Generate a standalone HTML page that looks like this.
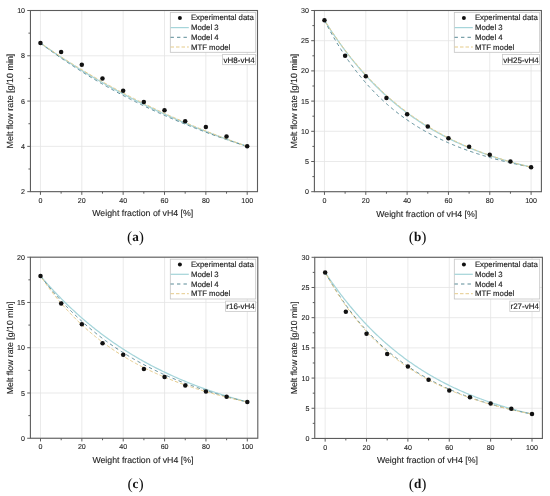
<!DOCTYPE html>
<html><head><meta charset="utf-8"><style>
html,body{margin:0;padding:0;background:#fff;}
svg{display:block;filter:blur(0.45px);text-rendering:geometricPrecision;}
.tl{font-family:"Liberation Sans",Arial,sans-serif;font-size:7.1px;fill:#222;stroke:#222;stroke-width:0.1px;}
.at{font-family:"Liberation Sans",Arial,sans-serif;font-size:8.75px;fill:#222;stroke:#222;stroke-width:0.1px;}
.lg{font-family:"Liberation Sans",Arial,sans-serif;font-size:7.8px;fill:#1a1a1a;stroke:#1a1a1a;stroke-width:0.14px;}
.lb{font-family:"Liberation Sans",Arial,sans-serif;font-size:8px;fill:#1a1a1a;stroke:#1a1a1a;stroke-width:0.14px;}
.sc{font-family:"Liberation Serif","Times New Roman",serif;font-size:13.2px;fill:#111;}
.pa{font-size:15.6px;}
</style></head><body>
<svg width="550" height="496" viewBox="0 0 550 496">
<rect width="550" height="496" fill="#fff"/>
<line x1="40.45" y1="10.50" x2="40.45" y2="191.65" stroke="#e4e4e4" stroke-width="0.8"/>
<line x1="81.80" y1="10.50" x2="81.80" y2="191.65" stroke="#e4e4e4" stroke-width="0.8"/>
<line x1="123.15" y1="10.50" x2="123.15" y2="191.65" stroke="#e4e4e4" stroke-width="0.8"/>
<line x1="164.50" y1="10.50" x2="164.50" y2="191.65" stroke="#e4e4e4" stroke-width="0.8"/>
<line x1="205.85" y1="10.50" x2="205.85" y2="191.65" stroke="#e4e4e4" stroke-width="0.8"/>
<line x1="247.20" y1="10.50" x2="247.20" y2="191.65" stroke="#e4e4e4" stroke-width="0.8"/>
<line x1="30.45" y1="191.65" x2="257.50" y2="191.65" stroke="#e4e4e4" stroke-width="0.8"/>
<line x1="30.45" y1="146.36" x2="257.50" y2="146.36" stroke="#e4e4e4" stroke-width="0.8"/>
<line x1="30.45" y1="101.08" x2="257.50" y2="101.08" stroke="#e4e4e4" stroke-width="0.8"/>
<line x1="30.45" y1="55.79" x2="257.50" y2="55.79" stroke="#e4e4e4" stroke-width="0.8"/>
<line x1="30.45" y1="10.50" x2="257.50" y2="10.50" stroke="#e4e4e4" stroke-width="0.8"/>
<path d="M40.45,43.11 L41.48,43.84 L42.52,44.58 L43.55,45.31 L44.59,46.03 L45.62,46.76 L46.65,47.48 L47.69,48.20 L48.72,48.92 L49.75,49.63 L50.79,50.34 L51.82,51.05 L52.86,51.76 L53.89,52.46 L54.92,53.16 L55.96,53.86 L56.99,54.55 L58.02,55.25 L59.06,55.93 L60.09,56.62 L61.12,57.31 L62.16,57.99 L63.19,58.67 L64.23,59.35 L65.26,60.02 L66.29,60.69 L67.33,61.36 L68.36,62.03 L69.40,62.69 L70.43,63.35 L71.46,64.01 L72.50,64.67 L73.53,65.32 L74.56,65.97 L75.60,66.62 L76.63,67.27 L77.67,67.91 L78.70,68.56 L79.73,69.19 L80.77,69.83 L81.80,70.47 L82.83,71.10 L83.87,71.73 L84.90,72.36 L85.94,72.98 L86.97,73.60 L88.00,74.22 L89.04,74.84 L90.07,75.46 L91.10,76.07 L92.14,76.68 L93.17,77.29 L94.21,77.89 L95.24,78.50 L96.27,79.10 L97.31,79.70 L98.34,80.30 L99.37,80.89 L100.41,81.48 L101.44,82.07 L102.47,82.66 L103.51,83.25 L104.54,83.83 L105.58,84.41 L106.61,84.99 L107.64,85.57 L108.68,86.14 L109.71,86.72 L110.75,87.29 L111.78,87.85 L112.81,88.42 L113.85,88.98 L114.88,89.55 L115.91,90.11 L116.95,90.66 L117.98,91.22 L119.02,91.77 L120.05,92.32 L121.08,92.87 L122.12,93.42 L123.15,93.96 L124.18,94.51 L125.22,95.05 L126.25,95.59 L127.28,96.12 L128.32,96.66 L129.35,97.19 L130.39,97.72 L131.42,98.25 L132.45,98.78 L133.49,99.30 L134.52,99.82 L135.56,100.34 L136.59,100.86 L137.62,101.38 L138.66,101.89 L139.69,102.41 L140.72,102.92 L141.76,103.43 L142.79,103.93 L143.82,104.44 L144.86,104.94 L145.89,105.44 L146.93,105.94 L147.96,106.44 L148.99,106.93 L150.03,107.43 L151.06,107.92 L152.09,108.41 L153.13,108.90 L154.16,109.38 L155.20,109.87 L156.23,110.35 L157.26,110.83 L158.30,111.31 L159.33,111.79 L160.36,112.26 L161.40,112.74 L162.43,113.21 L163.47,113.68 L164.50,114.14 L165.53,114.61 L166.57,115.08 L167.60,115.54 L168.63,116.00 L169.67,116.46 L170.70,116.92 L171.74,117.37 L172.77,117.83 L173.80,118.28 L174.84,118.73 L175.87,119.18 L176.91,119.62 L177.94,120.07 L178.97,120.51 L180.01,120.95 L181.04,121.40 L182.07,121.83 L183.11,122.27 L184.14,122.71 L185.18,123.14 L186.21,123.57 L187.24,124.00 L188.28,124.43 L189.31,124.86 L190.34,125.28 L191.38,125.71 L192.41,126.13 L193.44,126.55 L194.48,126.97 L195.51,127.39 L196.55,127.80 L197.58,128.22 L198.61,128.63 L199.65,129.04 L200.68,129.45 L201.71,129.86 L202.75,130.27 L203.78,130.67 L204.82,131.07 L205.85,131.48 L206.88,131.88 L207.92,132.28 L208.95,132.67 L209.99,133.07 L211.02,133.46 L212.05,133.86 L213.09,134.25 L214.12,134.64 L215.15,135.03 L216.19,135.41 L217.22,135.80 L218.25,136.18 L219.29,136.57 L220.32,136.95 L221.36,137.33 L222.39,137.70 L223.42,138.08 L224.46,138.46 L225.49,138.83 L226.52,139.20 L227.56,139.57 L228.59,139.94 L229.63,140.31 L230.66,140.68 L231.69,141.04 L232.73,141.41 L233.76,141.77 L234.80,142.13 L235.83,142.49 L236.86,142.85 L237.90,143.21 L238.93,143.56 L239.96,143.92 L241.00,144.27 L242.03,144.62 L243.06,144.97 L244.10,145.32 L245.13,145.67 L246.17,146.02 L247.20,146.36" fill="none" stroke="#a6d5da" stroke-width="1.25"/>
<path d="M40.45,43.11 L41.48,43.89 L42.52,44.66 L43.55,45.43 L44.59,46.20 L45.62,46.97 L46.65,47.73 L47.69,48.49 L48.72,49.24 L49.75,49.99 L50.79,50.74 L51.82,51.48 L52.86,52.22 L53.89,52.96 L54.92,53.70 L55.96,54.43 L56.99,55.15 L58.02,55.88 L59.06,56.60 L60.09,57.31 L61.12,58.03 L62.16,58.74 L63.19,59.45 L64.23,60.15 L65.26,60.85 L66.29,61.55 L67.33,62.24 L68.36,62.94 L69.40,63.62 L70.43,64.31 L71.46,64.99 L72.50,65.67 L73.53,66.35 L74.56,67.02 L75.60,67.69 L76.63,68.36 L77.67,69.02 L78.70,69.68 L79.73,70.34 L80.77,70.99 L81.80,71.64 L82.83,72.29 L83.87,72.94 L84.90,73.58 L85.94,74.22 L86.97,74.86 L88.00,75.49 L89.04,76.13 L90.07,76.75 L91.10,77.38 L92.14,78.00 L93.17,78.62 L94.21,79.24 L95.24,79.86 L96.27,80.47 L97.31,81.08 L98.34,81.68 L99.37,82.29 L100.41,82.89 L101.44,83.49 L102.47,84.08 L103.51,84.68 L104.54,85.27 L105.58,85.85 L106.61,86.44 L107.64,87.02 L108.68,87.60 L109.71,88.18 L110.75,88.75 L111.78,89.33 L112.81,89.90 L113.85,90.46 L114.88,91.03 L115.91,91.59 L116.95,92.15 L117.98,92.71 L119.02,93.26 L120.05,93.81 L121.08,94.36 L122.12,94.91 L123.15,95.46 L124.18,96.00 L125.22,96.54 L126.25,97.08 L127.28,97.61 L128.32,98.15 L129.35,98.68 L130.39,99.20 L131.42,99.73 L132.45,100.25 L133.49,100.78 L134.52,101.30 L135.56,101.81 L136.59,102.33 L137.62,102.84 L138.66,103.35 L139.69,103.86 L140.72,104.36 L141.76,104.87 L142.79,105.37 L143.82,105.87 L144.86,106.36 L145.89,106.86 L146.93,107.35 L147.96,107.84 L148.99,108.33 L150.03,108.82 L151.06,109.30 L152.09,109.78 L153.13,110.26 L154.16,110.74 L155.20,111.22 L156.23,111.69 L157.26,112.16 L158.30,112.63 L159.33,113.10 L160.36,113.56 L161.40,114.03 L162.43,114.49 L163.47,114.95 L164.50,115.41 L165.53,115.86 L166.57,116.32 L167.60,116.77 L168.63,117.22 L169.67,117.67 L170.70,118.11 L171.74,118.56 L172.77,119.00 L173.80,119.44 L174.84,119.88 L175.87,120.31 L176.91,120.75 L177.94,121.18 L178.97,121.61 L180.01,122.04 L181.04,122.47 L182.07,122.89 L183.11,123.32 L184.14,123.74 L185.18,124.16 L186.21,124.57 L187.24,124.99 L188.28,125.41 L189.31,125.82 L190.34,126.23 L191.38,126.64 L192.41,127.05 L193.44,127.45 L194.48,127.86 L195.51,128.26 L196.55,128.66 L197.58,129.06 L198.61,129.46 L199.65,129.85 L200.68,130.25 L201.71,130.64 L202.75,131.03 L203.78,131.42 L204.82,131.80 L205.85,132.19 L206.88,132.57 L207.92,132.96 L208.95,133.34 L209.99,133.72 L211.02,134.09 L212.05,134.47 L213.09,134.84 L214.12,135.22 L215.15,135.59 L216.19,135.96 L217.22,136.33 L218.25,136.69 L219.29,137.06 L220.32,137.42 L221.36,137.78 L222.39,138.15 L223.42,138.50 L224.46,138.86 L225.49,139.22 L226.52,139.57 L227.56,139.93 L228.59,140.28 L229.63,140.63 L230.66,140.98 L231.69,141.32 L232.73,141.67 L233.76,142.01 L234.80,142.36 L235.83,142.70 L236.86,143.04 L237.90,143.38 L238.93,143.71 L239.96,144.05 L241.00,144.38 L242.03,144.72 L243.06,145.05 L244.10,145.38 L245.13,145.71 L246.17,146.04 L247.20,146.36" fill="none" stroke="#5b8b97" stroke-width="1" stroke-dasharray="3.4 3.1"/>
<path d="M40.45,43.11 L41.48,43.82 L42.52,44.52 L43.55,45.23 L44.59,45.93 L45.62,46.63 L46.65,47.33 L47.69,48.02 L48.72,48.71 L49.75,49.40 L50.79,50.09 L51.82,50.78 L52.86,51.46 L53.89,52.14 L54.92,52.82 L55.96,53.50 L56.99,54.17 L58.02,54.84 L59.06,55.51 L60.09,56.18 L61.12,56.85 L62.16,57.51 L63.19,58.17 L64.23,58.83 L65.26,59.49 L66.29,60.14 L67.33,60.80 L68.36,61.45 L69.40,62.09 L70.43,62.74 L71.46,63.38 L72.50,64.03 L73.53,64.66 L74.56,65.30 L75.60,65.94 L76.63,66.57 L77.67,67.20 L78.70,67.83 L79.73,68.46 L80.77,69.08 L81.80,69.71 L82.83,70.33 L83.87,70.94 L84.90,71.56 L85.94,72.18 L86.97,72.79 L88.00,73.40 L89.04,74.01 L90.07,74.61 L91.10,75.22 L92.14,75.82 L93.17,76.42 L94.21,77.02 L95.24,77.61 L96.27,78.21 L97.31,78.80 L98.34,79.39 L99.37,79.98 L100.41,80.56 L101.44,81.15 L102.47,81.73 L103.51,82.31 L104.54,82.89 L105.58,83.47 L106.61,84.04 L107.64,84.61 L108.68,85.18 L109.71,85.75 L110.75,86.32 L111.78,86.88 L112.81,87.45 L113.85,88.01 L114.88,88.57 L115.91,89.12 L116.95,89.68 L117.98,90.23 L119.02,90.78 L120.05,91.33 L121.08,91.88 L122.12,92.43 L123.15,92.97 L124.18,93.51 L125.22,94.06 L126.25,94.59 L127.28,95.13 L128.32,95.67 L129.35,96.20 L130.39,96.73 L131.42,97.26 L132.45,97.79 L133.49,98.31 L134.52,98.84 L135.56,99.36 L136.59,99.88 L137.62,100.40 L138.66,100.92 L139.69,101.43 L140.72,101.95 L141.76,102.46 L142.79,102.97 L143.82,103.48 L144.86,103.98 L145.89,104.49 L146.93,104.99 L147.96,105.49 L148.99,105.99 L150.03,106.49 L151.06,106.99 L152.09,107.48 L153.13,107.97 L154.16,108.46 L155.20,108.95 L156.23,109.44 L157.26,109.93 L158.30,110.41 L159.33,110.90 L160.36,111.38 L161.40,111.86 L162.43,112.33 L163.47,112.81 L164.50,113.28 L165.53,113.76 L166.57,114.23 L167.60,114.70 L168.63,115.17 L169.67,115.63 L170.70,116.10 L171.74,116.56 L172.77,117.02 L173.80,117.48 L174.84,117.94 L175.87,118.40 L176.91,118.85 L177.94,119.31 L178.97,119.76 L180.01,120.21 L181.04,120.66 L182.07,121.11 L183.11,121.55 L184.14,122.00 L185.18,122.44 L186.21,122.88 L187.24,123.32 L188.28,123.76 L189.31,124.20 L190.34,124.63 L191.38,125.06 L192.41,125.50 L193.44,125.93 L194.48,126.36 L195.51,126.78 L196.55,127.21 L197.58,127.63 L198.61,128.06 L199.65,128.48 L200.68,128.90 L201.71,129.32 L202.75,129.74 L203.78,130.15 L204.82,130.57 L205.85,130.98 L206.88,131.39 L207.92,131.80 L208.95,132.21 L209.99,132.62 L211.02,133.02 L212.05,133.43 L213.09,133.83 L214.12,134.23 L215.15,134.63 L216.19,135.03 L217.22,135.43 L218.25,135.82 L219.29,136.22 L220.32,136.61 L221.36,137.00 L222.39,137.39 L223.42,137.78 L224.46,138.17 L225.49,138.56 L226.52,138.94 L227.56,139.33 L228.59,139.71 L229.63,140.09 L230.66,140.47 L231.69,140.85 L232.73,141.22 L233.76,141.60 L234.80,141.97 L235.83,142.35 L236.86,142.72 L237.90,143.09 L238.93,143.46 L239.96,143.83 L241.00,144.19 L242.03,144.56 L243.06,144.92 L244.10,145.28 L245.13,145.64 L246.17,146.00 L247.20,146.36" fill="none" stroke="#e5cb8a" stroke-width="1" stroke-dasharray="3.5 2" stroke-dashoffset="2.4"/>
<circle cx="40.45" cy="43.11" r="2.25" fill="#111"/>
<circle cx="61.12" cy="51.94" r="2.25" fill="#111"/>
<circle cx="81.80" cy="64.85" r="2.25" fill="#111"/>
<circle cx="102.47" cy="78.43" r="2.25" fill="#111"/>
<circle cx="123.15" cy="90.66" r="2.25" fill="#111"/>
<circle cx="143.82" cy="101.98" r="2.25" fill="#111"/>
<circle cx="164.50" cy="110.13" r="2.25" fill="#111"/>
<circle cx="185.18" cy="121.23" r="2.25" fill="#111"/>
<circle cx="205.85" cy="127.12" r="2.25" fill="#111"/>
<circle cx="226.52" cy="136.40" r="2.25" fill="#111"/>
<circle cx="247.20" cy="146.36" r="2.25" fill="#111"/>
<rect x="30.45" y="10.50" width="227.05" height="181.15" fill="none" stroke="#5c5c5c" stroke-width="1.1"/>
<line x1="40.45" y1="191.65" x2="40.45" y2="194.85" stroke="#5c5c5c" stroke-width="1"/>
<line x1="61.12" y1="191.65" x2="61.12" y2="193.65" stroke="#5c5c5c" stroke-width="1"/>
<line x1="81.80" y1="191.65" x2="81.80" y2="194.85" stroke="#5c5c5c" stroke-width="1"/>
<line x1="102.47" y1="191.65" x2="102.47" y2="193.65" stroke="#5c5c5c" stroke-width="1"/>
<line x1="123.15" y1="191.65" x2="123.15" y2="194.85" stroke="#5c5c5c" stroke-width="1"/>
<line x1="143.82" y1="191.65" x2="143.82" y2="193.65" stroke="#5c5c5c" stroke-width="1"/>
<line x1="164.50" y1="191.65" x2="164.50" y2="194.85" stroke="#5c5c5c" stroke-width="1"/>
<line x1="185.18" y1="191.65" x2="185.18" y2="193.65" stroke="#5c5c5c" stroke-width="1"/>
<line x1="205.85" y1="191.65" x2="205.85" y2="194.85" stroke="#5c5c5c" stroke-width="1"/>
<line x1="226.52" y1="191.65" x2="226.52" y2="193.65" stroke="#5c5c5c" stroke-width="1"/>
<line x1="247.20" y1="191.65" x2="247.20" y2="194.85" stroke="#5c5c5c" stroke-width="1"/>
<line x1="27.25" y1="191.65" x2="30.45" y2="191.65" stroke="#5c5c5c" stroke-width="1"/>
<line x1="28.45" y1="169.01" x2="30.45" y2="169.01" stroke="#5c5c5c" stroke-width="1"/>
<line x1="27.25" y1="146.36" x2="30.45" y2="146.36" stroke="#5c5c5c" stroke-width="1"/>
<line x1="28.45" y1="123.72" x2="30.45" y2="123.72" stroke="#5c5c5c" stroke-width="1"/>
<line x1="27.25" y1="101.08" x2="30.45" y2="101.08" stroke="#5c5c5c" stroke-width="1"/>
<line x1="28.45" y1="78.43" x2="30.45" y2="78.43" stroke="#5c5c5c" stroke-width="1"/>
<line x1="27.25" y1="55.79" x2="30.45" y2="55.79" stroke="#5c5c5c" stroke-width="1"/>
<line x1="28.45" y1="33.14" x2="30.45" y2="33.14" stroke="#5c5c5c" stroke-width="1"/>
<line x1="27.25" y1="10.50" x2="30.45" y2="10.50" stroke="#5c5c5c" stroke-width="1"/>
<text x="40.45" y="202.75" class="tl" text-anchor="middle">0</text>
<text x="81.80" y="202.75" class="tl" text-anchor="middle">20</text>
<text x="123.15" y="202.75" class="tl" text-anchor="middle">40</text>
<text x="164.50" y="202.75" class="tl" text-anchor="middle">60</text>
<text x="205.85" y="202.75" class="tl" text-anchor="middle">80</text>
<text x="247.20" y="202.75" class="tl" text-anchor="middle">100</text>
<text x="25.05" y="194.20" class="tl" text-anchor="end">2</text>
<text x="25.05" y="148.91" class="tl" text-anchor="end">4</text>
<text x="25.05" y="103.62" class="tl" text-anchor="end">6</text>
<text x="25.05" y="58.34" class="tl" text-anchor="end">8</text>
<text x="25.05" y="13.05" class="tl" text-anchor="end">10</text>
<text x="142.78" y="216.45" class="at" text-anchor="middle">Weight fraction of vH4 [%]</text>
<text transform="translate(12.85,101.08) rotate(-90)" class="at" style="font-size:8.95px" text-anchor="middle">Melt flow rate [g/10 min]</text>
<rect x="170.30" y="12.50" width="85.4" height="39.8" fill="#fff" stroke="#c4c4c4" stroke-width="0.8"/>
<circle cx="179.90" cy="17.90" r="2.0" fill="#111"/>
<line x1="170.50" y1="27.60" x2="188.80" y2="27.60" stroke="#a6d5da" stroke-width="1.25"/>
<line x1="170.50" y1="37.30" x2="188.80" y2="37.30" stroke="#5b8b97" stroke-width="1" stroke-dasharray="3.4 3.1"/>
<line x1="170.50" y1="47.00" x2="188.80" y2="47.00" stroke="#e5cb8a" stroke-width="1" stroke-dasharray="3.5 2"/>
<text x="190.90" y="20.40" class="lg">Experimental data</text>
<text x="190.90" y="30.10" class="lg">Model 3</text>
<text x="190.90" y="39.80" class="lg">Model 4</text>
<text x="190.90" y="49.50" class="lg">MTF model</text>
<rect x="222.60" y="54.40" width="33.00" height="10.3" fill="#fff" stroke="#c8c8c8" stroke-width="0.8"/>
<text x="239.10" y="62.60" class="lb" text-anchor="middle">vH8-vH4</text>
<text x="135.55" y="241.30" class="sc" text-anchor="middle"><tspan class="pa" dy="0.9">(</tspan><tspan font-weight="bold" dy="-0.9">a</tspan><tspan class="pa" dy="0.9">)</tspan></text>
<line x1="324.46" y1="10.50" x2="324.46" y2="191.70" stroke="#e4e4e4" stroke-width="0.8"/>
<line x1="365.79" y1="10.50" x2="365.79" y2="191.70" stroke="#e4e4e4" stroke-width="0.8"/>
<line x1="407.12" y1="10.50" x2="407.12" y2="191.70" stroke="#e4e4e4" stroke-width="0.8"/>
<line x1="448.44" y1="10.50" x2="448.44" y2="191.70" stroke="#e4e4e4" stroke-width="0.8"/>
<line x1="489.77" y1="10.50" x2="489.77" y2="191.70" stroke="#e4e4e4" stroke-width="0.8"/>
<line x1="531.10" y1="10.50" x2="531.10" y2="191.70" stroke="#e4e4e4" stroke-width="0.8"/>
<line x1="314.40" y1="191.70" x2="541.40" y2="191.70" stroke="#e4e4e4" stroke-width="0.8"/>
<line x1="314.40" y1="161.50" x2="541.40" y2="161.50" stroke="#e4e4e4" stroke-width="0.8"/>
<line x1="314.40" y1="131.30" x2="541.40" y2="131.30" stroke="#e4e4e4" stroke-width="0.8"/>
<line x1="314.40" y1="101.10" x2="541.40" y2="101.10" stroke="#e4e4e4" stroke-width="0.8"/>
<line x1="314.40" y1="70.90" x2="541.40" y2="70.90" stroke="#e4e4e4" stroke-width="0.8"/>
<line x1="314.40" y1="40.70" x2="541.40" y2="40.70" stroke="#e4e4e4" stroke-width="0.8"/>
<line x1="314.40" y1="10.50" x2="541.40" y2="10.50" stroke="#e4e4e4" stroke-width="0.8"/>
<path d="M324.46,20.28 L325.49,21.94 L326.53,23.59 L327.56,25.21 L328.59,26.82 L329.63,28.42 L330.66,30.00 L331.69,31.56 L332.73,33.11 L333.76,34.65 L334.79,36.17 L335.83,37.67 L336.86,39.16 L337.89,40.64 L338.92,42.10 L339.96,43.55 L340.99,44.98 L342.02,46.40 L343.06,47.81 L344.09,49.20 L345.12,50.58 L346.16,51.94 L347.19,53.29 L348.22,54.63 L349.26,55.96 L350.29,57.27 L351.32,58.57 L352.36,59.86 L353.39,61.14 L354.42,62.40 L355.46,63.65 L356.49,64.89 L357.52,66.12 L358.56,67.33 L359.59,68.54 L360.62,69.73 L361.66,70.91 L362.69,72.08 L363.72,73.23 L364.75,74.38 L365.79,75.51 L366.82,76.64 L367.85,77.75 L368.89,78.85 L369.92,79.95 L370.95,81.03 L371.99,82.10 L373.02,83.16 L374.05,84.21 L375.09,85.25 L376.12,86.28 L377.15,87.30 L378.19,88.31 L379.22,89.31 L380.25,90.30 L381.29,91.28 L382.32,92.25 L383.35,93.21 L384.39,94.17 L385.42,95.11 L386.45,96.05 L387.49,96.97 L388.52,97.89 L389.55,98.80 L390.58,99.69 L391.62,100.58 L392.65,101.47 L393.68,102.34 L394.72,103.20 L395.75,104.06 L396.78,104.91 L397.82,105.75 L398.85,106.58 L399.88,107.40 L400.92,108.22 L401.95,109.03 L402.98,109.83 L404.02,110.62 L405.05,111.40 L406.08,112.18 L407.12,112.95 L408.15,113.71 L409.18,114.47 L410.22,115.21 L411.25,115.95 L412.28,116.69 L413.32,117.41 L414.35,118.13 L415.38,118.84 L416.41,119.55 L417.45,120.25 L418.48,120.94 L419.51,121.62 L420.55,122.30 L421.58,122.97 L422.61,123.64 L423.65,124.29 L424.68,124.95 L425.71,125.59 L426.75,126.23 L427.78,126.87 L428.81,127.49 L429.85,128.11 L430.88,128.73 L431.91,129.34 L432.95,129.94 L433.98,130.54 L435.01,131.13 L436.05,131.72 L437.08,132.30 L438.11,132.87 L439.15,133.44 L440.18,134.01 L441.21,134.56 L442.24,135.12 L443.28,135.66 L444.31,136.21 L445.34,136.74 L446.38,137.27 L447.41,137.80 L448.44,138.32 L449.48,138.84 L450.51,139.35 L451.54,139.86 L452.58,140.36 L453.61,140.86 L454.64,141.35 L455.68,141.83 L456.71,142.32 L457.74,142.79 L458.78,143.27 L459.81,143.74 L460.84,144.20 L461.88,144.66 L462.91,145.12 L463.94,145.57 L464.98,146.01 L466.01,146.45 L467.04,146.89 L468.07,147.33 L469.11,147.76 L470.14,148.18 L471.17,148.60 L472.21,149.02 L473.24,149.43 L474.27,149.84 L475.31,150.25 L476.34,150.65 L477.37,151.04 L478.41,151.44 L479.44,151.83 L480.47,152.21 L481.51,152.59 L482.54,152.97 L483.57,153.35 L484.61,153.72 L485.64,154.09 L486.67,154.45 L487.71,154.81 L488.74,155.17 L489.77,155.52 L490.81,155.87 L491.84,156.22 L492.87,156.56 L493.90,156.90 L494.94,157.24 L495.97,157.57 L497.00,157.90 L498.04,158.23 L499.07,158.55 L500.10,158.87 L501.14,159.19 L502.17,159.50 L503.20,159.82 L504.24,160.12 L505.27,160.43 L506.30,160.73 L507.34,161.03 L508.37,161.33 L509.40,161.62 L510.44,161.91 L511.47,162.20 L512.50,162.49 L513.54,162.77 L514.57,163.05 L515.60,163.33 L516.64,163.60 L517.67,163.87 L518.70,164.14 L519.73,164.41 L520.77,164.67 L521.80,164.94 L522.83,165.19 L523.87,165.45 L524.90,165.70 L525.93,165.96 L526.97,166.21 L528.00,166.45 L529.03,166.70 L530.07,166.94 L531.10,167.18" fill="none" stroke="#a6d5da" stroke-width="1.25"/>
<path d="M324.46,20.28 L325.49,22.31 L326.53,24.30 L327.56,26.27 L328.59,28.21 L329.63,30.12 L330.66,32.00 L331.69,33.86 L332.73,35.69 L333.76,37.50 L334.79,39.28 L335.83,41.04 L336.86,42.77 L337.89,44.48 L338.92,46.16 L339.96,47.83 L340.99,49.47 L342.02,51.08 L343.06,52.68 L344.09,54.25 L345.12,55.80 L346.16,57.34 L347.19,58.85 L348.22,60.34 L349.26,61.81 L350.29,63.26 L351.32,64.69 L352.36,66.10 L353.39,67.49 L354.42,68.87 L355.46,70.23 L356.49,71.56 L357.52,72.88 L358.56,74.19 L359.59,75.47 L360.62,76.74 L361.66,78.00 L362.69,79.23 L363.72,80.45 L364.75,81.66 L365.79,82.85 L366.82,84.02 L367.85,85.18 L368.89,86.32 L369.92,87.45 L370.95,88.57 L371.99,89.67 L373.02,90.75 L374.05,91.83 L375.09,92.88 L376.12,93.93 L377.15,94.96 L378.19,95.98 L379.22,96.99 L380.25,97.98 L381.29,98.96 L382.32,99.93 L383.35,100.88 L384.39,101.83 L385.42,102.76 L386.45,103.68 L387.49,104.59 L388.52,105.49 L389.55,106.38 L390.58,107.26 L391.62,108.12 L392.65,108.98 L393.68,109.82 L394.72,110.66 L395.75,111.48 L396.78,112.29 L397.82,113.10 L398.85,113.89 L399.88,114.68 L400.92,115.45 L401.95,116.22 L402.98,116.97 L404.02,117.72 L405.05,118.46 L406.08,119.19 L407.12,119.91 L408.15,120.62 L409.18,121.33 L410.22,122.02 L411.25,122.71 L412.28,123.39 L413.32,124.06 L414.35,124.73 L415.38,125.38 L416.41,126.03 L417.45,126.67 L418.48,127.30 L419.51,127.93 L420.55,128.55 L421.58,129.16 L422.61,129.76 L423.65,130.36 L424.68,130.95 L425.71,131.53 L426.75,132.11 L427.78,132.68 L428.81,133.24 L429.85,133.80 L430.88,134.35 L431.91,134.89 L432.95,135.43 L433.98,135.96 L435.01,136.49 L436.05,137.01 L437.08,137.52 L438.11,138.03 L439.15,138.54 L440.18,139.03 L441.21,139.52 L442.24,140.01 L443.28,140.49 L444.31,140.97 L445.34,141.44 L446.38,141.90 L447.41,142.36 L448.44,142.82 L449.48,143.27 L450.51,143.71 L451.54,144.15 L452.58,144.58 L453.61,145.01 L454.64,145.44 L455.68,145.86 L456.71,146.28 L457.74,146.69 L458.78,147.10 L459.81,147.50 L460.84,147.90 L461.88,148.29 L462.91,148.68 L463.94,149.07 L464.98,149.45 L466.01,149.83 L467.04,150.20 L468.07,150.57 L469.11,150.93 L470.14,151.29 L471.17,151.65 L472.21,152.01 L473.24,152.36 L474.27,152.70 L475.31,153.05 L476.34,153.39 L477.37,153.72 L478.41,154.05 L479.44,154.38 L480.47,154.71 L481.51,155.03 L482.54,155.35 L483.57,155.66 L484.61,155.97 L485.64,156.28 L486.67,156.59 L487.71,156.89 L488.74,157.19 L489.77,157.49 L490.81,157.78 L491.84,158.07 L492.87,158.36 L493.90,158.64 L494.94,158.92 L495.97,159.20 L497.00,159.48 L498.04,159.75 L499.07,160.02 L500.10,160.29 L501.14,160.55 L502.17,160.81 L503.20,161.07 L504.24,161.33 L505.27,161.58 L506.30,161.83 L507.34,162.08 L508.37,162.33 L509.40,162.57 L510.44,162.81 L511.47,163.05 L512.50,163.29 L513.54,163.53 L514.57,163.76 L515.60,163.99 L516.64,164.21 L517.67,164.44 L518.70,164.66 L519.73,164.88 L520.77,165.10 L521.80,165.32 L522.83,165.53 L523.87,165.75 L524.90,165.96 L525.93,166.17 L526.97,166.37 L528.00,166.58 L529.03,166.78 L530.07,166.98 L531.10,167.18" fill="none" stroke="#5b8b97" stroke-width="1" stroke-dasharray="3.4 3.1"/>
<path d="M324.46,20.28 L325.49,21.91 L326.53,23.52 L327.56,25.12 L328.59,26.70 L329.63,28.27 L330.66,29.82 L331.69,31.36 L332.73,32.88 L333.76,34.39 L334.79,35.89 L335.83,37.37 L336.86,38.84 L337.89,40.29 L338.92,41.73 L339.96,43.16 L340.99,44.58 L342.02,45.98 L343.06,47.36 L344.09,48.74 L345.12,50.10 L346.16,51.45 L347.19,52.79 L348.22,54.11 L349.26,55.42 L350.29,56.72 L351.32,58.01 L352.36,59.28 L353.39,60.55 L354.42,61.80 L355.46,63.04 L356.49,64.27 L357.52,65.48 L358.56,66.69 L359.59,67.88 L360.62,69.06 L361.66,70.24 L362.69,71.40 L363.72,72.55 L364.75,73.69 L365.79,74.81 L366.82,75.93 L367.85,77.04 L368.89,78.14 L369.92,79.22 L370.95,80.30 L371.99,81.37 L373.02,82.42 L374.05,83.47 L375.09,84.51 L376.12,85.53 L377.15,86.55 L378.19,87.56 L379.22,88.56 L380.25,89.55 L381.29,90.53 L382.32,91.50 L383.35,92.46 L384.39,93.41 L385.42,94.35 L386.45,95.29 L387.49,96.21 L388.52,97.13 L389.55,98.04 L390.58,98.94 L391.62,99.83 L392.65,100.71 L393.68,101.59 L394.72,102.45 L395.75,103.31 L396.78,104.16 L397.82,105.00 L398.85,105.84 L399.88,106.66 L400.92,107.48 L401.95,108.29 L402.98,109.10 L404.02,109.89 L405.05,110.68 L406.08,111.46 L407.12,112.23 L408.15,113.00 L409.18,113.76 L410.22,114.51 L411.25,115.25 L412.28,115.99 L413.32,116.72 L414.35,117.44 L415.38,118.16 L416.41,118.87 L417.45,119.57 L418.48,120.27 L419.51,120.96 L420.55,121.64 L421.58,122.32 L422.61,122.99 L423.65,123.66 L424.68,124.31 L425.71,124.97 L426.75,125.61 L427.78,126.25 L428.81,126.88 L429.85,127.51 L430.88,128.13 L431.91,128.75 L432.95,129.36 L433.98,129.96 L435.01,130.56 L436.05,131.15 L437.08,131.74 L438.11,132.32 L439.15,132.89 L440.18,133.46 L441.21,134.03 L442.24,134.59 L443.28,135.14 L444.31,135.69 L445.34,136.23 L446.38,136.77 L447.41,137.31 L448.44,137.83 L449.48,138.36 L450.51,138.88 L451.54,139.39 L452.58,139.90 L453.61,140.40 L454.64,140.90 L455.68,141.39 L456.71,141.88 L457.74,142.37 L458.78,142.85 L459.81,143.32 L460.84,143.79 L461.88,144.26 L462.91,144.72 L463.94,145.18 L464.98,145.63 L466.01,146.08 L467.04,146.53 L468.07,146.97 L469.11,147.40 L470.14,147.83 L471.17,148.26 L472.21,148.69 L473.24,149.11 L474.27,149.52 L475.31,149.93 L476.34,150.34 L477.37,150.74 L478.41,151.14 L479.44,151.54 L480.47,151.93 L481.51,152.32 L482.54,152.71 L483.57,153.09 L484.61,153.47 L485.64,153.84 L486.67,154.21 L487.71,154.58 L488.74,154.94 L489.77,155.30 L490.81,155.66 L491.84,156.01 L492.87,156.36 L493.90,156.70 L494.94,157.05 L495.97,157.39 L497.00,157.72 L498.04,158.06 L499.07,158.39 L500.10,158.71 L501.14,159.04 L502.17,159.36 L503.20,159.67 L504.24,159.99 L505.27,160.30 L506.30,160.61 L507.34,160.91 L508.37,161.22 L509.40,161.51 L510.44,161.81 L511.47,162.11 L512.50,162.40 L513.54,162.68 L514.57,162.97 L515.60,163.25 L516.64,163.53 L517.67,163.81 L518.70,164.08 L519.73,164.36 L520.77,164.62 L521.80,164.89 L522.83,165.16 L523.87,165.42 L524.90,165.68 L525.93,165.93 L526.97,166.19 L528.00,166.44 L529.03,166.69 L530.07,166.93 L531.10,167.18" fill="none" stroke="#e5cb8a" stroke-width="1" stroke-dasharray="3.5 2" stroke-dashoffset="2.4"/>
<circle cx="324.46" cy="20.28" r="2.25" fill="#111"/>
<circle cx="345.12" cy="55.80" r="2.25" fill="#111"/>
<circle cx="365.79" cy="76.15" r="2.25" fill="#111"/>
<circle cx="386.45" cy="97.96" r="2.25" fill="#111"/>
<circle cx="407.12" cy="114.15" r="2.25" fill="#111"/>
<circle cx="427.78" cy="126.47" r="2.25" fill="#111"/>
<circle cx="448.44" cy="138.37" r="2.25" fill="#111"/>
<circle cx="469.11" cy="146.76" r="2.25" fill="#111"/>
<circle cx="489.77" cy="154.67" r="2.25" fill="#111"/>
<circle cx="510.44" cy="161.38" r="2.25" fill="#111"/>
<circle cx="531.10" cy="167.18" r="2.25" fill="#111"/>
<rect x="314.40" y="10.50" width="227.00" height="181.20" fill="none" stroke="#5c5c5c" stroke-width="1.1"/>
<line x1="324.46" y1="191.70" x2="324.46" y2="194.90" stroke="#5c5c5c" stroke-width="1"/>
<line x1="345.12" y1="191.70" x2="345.12" y2="193.70" stroke="#5c5c5c" stroke-width="1"/>
<line x1="365.79" y1="191.70" x2="365.79" y2="194.90" stroke="#5c5c5c" stroke-width="1"/>
<line x1="386.45" y1="191.70" x2="386.45" y2="193.70" stroke="#5c5c5c" stroke-width="1"/>
<line x1="407.12" y1="191.70" x2="407.12" y2="194.90" stroke="#5c5c5c" stroke-width="1"/>
<line x1="427.78" y1="191.70" x2="427.78" y2="193.70" stroke="#5c5c5c" stroke-width="1"/>
<line x1="448.44" y1="191.70" x2="448.44" y2="194.90" stroke="#5c5c5c" stroke-width="1"/>
<line x1="469.11" y1="191.70" x2="469.11" y2="193.70" stroke="#5c5c5c" stroke-width="1"/>
<line x1="489.77" y1="191.70" x2="489.77" y2="194.90" stroke="#5c5c5c" stroke-width="1"/>
<line x1="510.44" y1="191.70" x2="510.44" y2="193.70" stroke="#5c5c5c" stroke-width="1"/>
<line x1="531.10" y1="191.70" x2="531.10" y2="194.90" stroke="#5c5c5c" stroke-width="1"/>
<line x1="311.20" y1="191.70" x2="314.40" y2="191.70" stroke="#5c5c5c" stroke-width="1"/>
<line x1="312.40" y1="176.60" x2="314.40" y2="176.60" stroke="#5c5c5c" stroke-width="1"/>
<line x1="311.20" y1="161.50" x2="314.40" y2="161.50" stroke="#5c5c5c" stroke-width="1"/>
<line x1="312.40" y1="146.40" x2="314.40" y2="146.40" stroke="#5c5c5c" stroke-width="1"/>
<line x1="311.20" y1="131.30" x2="314.40" y2="131.30" stroke="#5c5c5c" stroke-width="1"/>
<line x1="312.40" y1="116.20" x2="314.40" y2="116.20" stroke="#5c5c5c" stroke-width="1"/>
<line x1="311.20" y1="101.10" x2="314.40" y2="101.10" stroke="#5c5c5c" stroke-width="1"/>
<line x1="312.40" y1="86.00" x2="314.40" y2="86.00" stroke="#5c5c5c" stroke-width="1"/>
<line x1="311.20" y1="70.90" x2="314.40" y2="70.90" stroke="#5c5c5c" stroke-width="1"/>
<line x1="312.40" y1="55.80" x2="314.40" y2="55.80" stroke="#5c5c5c" stroke-width="1"/>
<line x1="311.20" y1="40.70" x2="314.40" y2="40.70" stroke="#5c5c5c" stroke-width="1"/>
<line x1="312.40" y1="25.60" x2="314.40" y2="25.60" stroke="#5c5c5c" stroke-width="1"/>
<line x1="311.20" y1="10.50" x2="314.40" y2="10.50" stroke="#5c5c5c" stroke-width="1"/>
<text x="324.46" y="202.80" class="tl" text-anchor="middle">0</text>
<text x="365.79" y="202.80" class="tl" text-anchor="middle">20</text>
<text x="407.12" y="202.80" class="tl" text-anchor="middle">40</text>
<text x="448.44" y="202.80" class="tl" text-anchor="middle">60</text>
<text x="489.77" y="202.80" class="tl" text-anchor="middle">80</text>
<text x="531.10" y="202.80" class="tl" text-anchor="middle">100</text>
<text x="309.00" y="194.25" class="tl" text-anchor="end">0</text>
<text x="309.00" y="164.05" class="tl" text-anchor="end">5</text>
<text x="309.00" y="133.85" class="tl" text-anchor="end">10</text>
<text x="309.00" y="103.65" class="tl" text-anchor="end">15</text>
<text x="309.00" y="73.45" class="tl" text-anchor="end">20</text>
<text x="309.00" y="43.25" class="tl" text-anchor="end">25</text>
<text x="309.00" y="13.05" class="tl" text-anchor="end">30</text>
<text x="426.70" y="216.50" class="at" text-anchor="middle">Weight fraction of vH4 [%]</text>
<text transform="translate(296.80,101.10) rotate(-90)" class="at" style="font-size:8.95px" text-anchor="middle">Melt flow rate [g/10 min]</text>
<rect x="454.30" y="12.50" width="85.4" height="39.8" fill="#fff" stroke="#c4c4c4" stroke-width="0.8"/>
<circle cx="463.90" cy="17.90" r="2.0" fill="#111"/>
<line x1="454.50" y1="27.60" x2="472.80" y2="27.60" stroke="#a6d5da" stroke-width="1.25"/>
<line x1="454.50" y1="37.30" x2="472.80" y2="37.30" stroke="#5b8b97" stroke-width="1" stroke-dasharray="3.4 3.1"/>
<line x1="454.50" y1="47.00" x2="472.80" y2="47.00" stroke="#e5cb8a" stroke-width="1" stroke-dasharray="3.5 2"/>
<text x="474.90" y="20.40" class="lg">Experimental data</text>
<text x="474.90" y="30.10" class="lg">Model 3</text>
<text x="474.90" y="39.80" class="lg">Model 4</text>
<text x="474.90" y="49.50" class="lg">MTF model</text>
<rect x="502.50" y="54.40" width="37.10" height="10.3" fill="#fff" stroke="#c8c8c8" stroke-width="0.8"/>
<text x="521.05" y="62.60" class="lb" text-anchor="middle">vH25-vH4</text>
<text x="417.60" y="241.30" class="sc" text-anchor="middle"><tspan class="pa" dy="0.9">(</tspan><tspan font-weight="bold" dy="-0.9">b</tspan><tspan class="pa" dy="0.9">)</tspan></text>
<line x1="40.50" y1="257.20" x2="40.50" y2="438.25" stroke="#e4e4e4" stroke-width="0.8"/>
<line x1="81.86" y1="257.20" x2="81.86" y2="438.25" stroke="#e4e4e4" stroke-width="0.8"/>
<line x1="123.22" y1="257.20" x2="123.22" y2="438.25" stroke="#e4e4e4" stroke-width="0.8"/>
<line x1="164.58" y1="257.20" x2="164.58" y2="438.25" stroke="#e4e4e4" stroke-width="0.8"/>
<line x1="205.94" y1="257.20" x2="205.94" y2="438.25" stroke="#e4e4e4" stroke-width="0.8"/>
<line x1="247.30" y1="257.20" x2="247.30" y2="438.25" stroke="#e4e4e4" stroke-width="0.8"/>
<line x1="30.40" y1="438.25" x2="257.80" y2="438.25" stroke="#e4e4e4" stroke-width="0.8"/>
<line x1="30.40" y1="392.99" x2="257.80" y2="392.99" stroke="#e4e4e4" stroke-width="0.8"/>
<line x1="30.40" y1="347.73" x2="257.80" y2="347.73" stroke="#e4e4e4" stroke-width="0.8"/>
<line x1="30.40" y1="302.46" x2="257.80" y2="302.46" stroke="#e4e4e4" stroke-width="0.8"/>
<line x1="30.40" y1="257.20" x2="257.80" y2="257.20" stroke="#e4e4e4" stroke-width="0.8"/>
<path d="M40.50,276.03 L41.53,277.24 L42.57,278.44 L43.60,279.63 L44.64,280.81 L45.67,281.99 L46.70,283.15 L47.74,284.31 L48.77,285.46 L49.81,286.60 L50.84,287.73 L51.87,288.85 L52.91,289.97 L53.94,291.07 L54.98,292.17 L56.01,293.26 L57.04,294.34 L58.08,295.41 L59.11,296.48 L60.15,297.54 L61.18,298.59 L62.21,299.63 L63.25,300.66 L64.28,301.69 L65.32,302.71 L66.35,303.72 L67.38,304.72 L68.42,305.72 L69.45,306.70 L70.49,307.68 L71.52,308.66 L72.55,309.62 L73.59,310.58 L74.62,311.54 L75.66,312.48 L76.69,313.42 L77.72,314.35 L78.76,315.27 L79.79,316.19 L80.83,317.10 L81.86,318.00 L82.89,318.90 L83.93,319.79 L84.96,320.68 L86.00,321.55 L87.03,322.42 L88.06,323.29 L89.10,324.14 L90.13,324.99 L91.17,325.84 L92.20,326.68 L93.23,327.51 L94.27,328.34 L95.30,329.15 L96.34,329.97 L97.37,330.78 L98.40,331.58 L99.44,332.37 L100.47,333.16 L101.51,333.95 L102.54,334.72 L103.57,335.50 L104.61,336.26 L105.64,337.02 L106.68,337.78 L107.71,338.53 L108.74,339.27 L109.78,340.01 L110.81,340.74 L111.85,341.47 L112.88,342.19 L113.91,342.91 L114.95,343.62 L115.98,344.32 L117.02,345.02 L118.05,345.72 L119.08,346.41 L120.12,347.09 L121.15,347.77 L122.19,348.45 L123.22,349.12 L124.25,349.78 L125.29,350.44 L126.32,351.10 L127.36,351.75 L128.39,352.39 L129.42,353.03 L130.46,353.67 L131.49,354.30 L132.53,354.93 L133.56,355.55 L134.59,356.16 L135.63,356.78 L136.66,357.38 L137.70,357.99 L138.73,358.59 L139.76,359.18 L140.80,359.77 L141.83,360.35 L142.87,360.94 L143.90,361.51 L144.93,362.08 L145.97,362.65 L147.00,363.22 L148.04,363.78 L149.07,364.33 L150.10,364.88 L151.14,365.43 L152.17,365.97 L153.21,366.51 L154.24,367.05 L155.27,367.58 L156.31,368.10 L157.34,368.63 L158.38,369.15 L159.41,369.66 L160.44,370.17 L161.48,370.68 L162.51,371.19 L163.55,371.69 L164.58,372.18 L165.61,372.67 L166.65,373.16 L167.68,373.65 L168.72,374.13 L169.75,374.61 L170.78,375.08 L171.82,375.55 L172.85,376.02 L173.89,376.49 L174.92,376.95 L175.95,377.40 L176.99,377.86 L178.02,378.31 L179.06,378.76 L180.09,379.20 L181.12,379.64 L182.16,380.08 L183.19,380.51 L184.23,380.94 L185.26,381.37 L186.29,381.79 L187.33,382.21 L188.36,382.63 L189.40,383.05 L190.43,383.46 L191.46,383.87 L192.50,384.27 L193.53,384.67 L194.57,385.07 L195.60,385.47 L196.63,385.86 L197.67,386.26 L198.70,386.64 L199.74,387.03 L200.77,387.41 L201.80,387.79 L202.84,388.17 L203.87,388.54 L204.91,388.91 L205.94,389.28 L206.97,389.64 L208.01,390.01 L209.04,390.37 L210.08,390.72 L211.11,391.08 L212.14,391.43 L213.18,391.78 L214.21,392.12 L215.25,392.47 L216.28,392.81 L217.31,393.15 L218.35,393.48 L219.38,393.82 L220.42,394.15 L221.45,394.48 L222.48,394.81 L223.52,395.13 L224.55,395.45 L225.59,395.77 L226.62,396.09 L227.65,396.40 L228.69,396.71 L229.72,397.02 L230.76,397.33 L231.79,397.64 L232.82,397.94 L233.86,398.24 L234.89,398.54 L235.93,398.83 L236.96,399.13 L237.99,399.42 L239.03,399.71 L240.06,400.00 L241.10,400.28 L242.13,400.57 L243.16,400.85 L244.20,401.13 L245.23,401.40 L246.27,401.68 L247.30,401.95" fill="none" stroke="#a6d5da" stroke-width="1.25"/>
<path d="M40.50,276.03 L41.53,277.38 L42.57,278.73 L43.60,280.06 L44.64,281.37 L45.67,282.68 L46.70,283.97 L47.74,285.25 L48.77,286.51 L49.81,287.77 L50.84,289.01 L51.87,290.24 L52.91,291.46 L53.94,292.67 L54.98,293.87 L56.01,295.05 L57.04,296.22 L58.08,297.39 L59.11,298.54 L60.15,299.68 L61.18,300.81 L62.21,301.93 L63.25,303.04 L64.28,304.14 L65.32,305.23 L66.35,306.31 L67.38,307.38 L68.42,308.43 L69.45,309.48 L70.49,310.52 L71.52,311.55 L72.55,312.57 L73.59,313.58 L74.62,314.58 L75.66,315.57 L76.69,316.56 L77.72,317.53 L78.76,318.50 L79.79,319.45 L80.83,320.40 L81.86,321.34 L82.89,322.27 L83.93,323.19 L84.96,324.10 L86.00,325.01 L87.03,325.90 L88.06,326.79 L89.10,327.67 L90.13,328.54 L91.17,329.41 L92.20,330.26 L93.23,331.11 L94.27,331.95 L95.30,332.79 L96.34,333.61 L97.37,334.43 L98.40,335.24 L99.44,336.05 L100.47,336.84 L101.51,337.63 L102.54,338.42 L103.57,339.19 L104.61,339.96 L105.64,340.72 L106.68,341.48 L107.71,342.23 L108.74,342.97 L109.78,343.70 L110.81,344.43 L111.85,345.15 L112.88,345.87 L113.91,346.58 L114.95,347.28 L115.98,347.98 L117.02,348.67 L118.05,349.35 L119.08,350.03 L120.12,350.71 L121.15,351.37 L122.19,352.03 L123.22,352.69 L124.25,353.34 L125.29,353.98 L126.32,354.62 L127.36,355.25 L128.39,355.88 L129.42,356.50 L130.46,357.12 L131.49,357.73 L132.53,358.34 L133.56,358.94 L134.59,359.53 L135.63,360.12 L136.66,360.71 L137.70,361.29 L138.73,361.86 L139.76,362.43 L140.80,363.00 L141.83,363.56 L142.87,364.11 L143.90,364.66 L144.93,365.21 L145.97,365.75 L147.00,366.29 L148.04,366.82 L149.07,367.35 L150.10,367.87 L151.14,368.39 L152.17,368.91 L153.21,369.42 L154.24,369.92 L155.27,370.42 L156.31,370.92 L157.34,371.41 L158.38,371.90 L159.41,372.39 L160.44,372.87 L161.48,373.35 L162.51,373.82 L163.55,374.29 L164.58,374.75 L165.61,375.21 L166.65,375.67 L167.68,376.12 L168.72,376.57 L169.75,377.02 L170.78,377.46 L171.82,377.90 L172.85,378.33 L173.89,378.77 L174.92,379.19 L175.95,379.62 L176.99,380.04 L178.02,380.46 L179.06,380.87 L180.09,381.28 L181.12,381.69 L182.16,382.09 L183.19,382.49 L184.23,382.89 L185.26,383.28 L186.29,383.67 L187.33,384.06 L188.36,384.44 L189.40,384.82 L190.43,385.20 L191.46,385.58 L192.50,385.95 L193.53,386.32 L194.57,386.68 L195.60,387.05 L196.63,387.41 L197.67,387.76 L198.70,388.12 L199.74,388.47 L200.77,388.82 L201.80,389.16 L202.84,389.51 L203.87,389.85 L204.91,390.19 L205.94,390.52 L206.97,390.85 L208.01,391.18 L209.04,391.51 L210.08,391.83 L211.11,392.15 L212.14,392.47 L213.18,392.79 L214.21,393.10 L215.25,393.42 L216.28,393.72 L217.31,394.03 L218.35,394.33 L219.38,394.64 L220.42,394.94 L221.45,395.23 L222.48,395.53 L223.52,395.82 L224.55,396.11 L225.59,396.40 L226.62,396.68 L227.65,396.97 L228.69,397.25 L229.72,397.53 L230.76,397.80 L231.79,398.08 L232.82,398.35 L233.86,398.62 L234.89,398.89 L235.93,399.16 L236.96,399.42 L237.99,399.68 L239.03,399.94 L240.06,400.20 L241.10,400.45 L242.13,400.71 L243.16,400.96 L244.20,401.21 L245.23,401.46 L246.27,401.71 L247.30,401.95" fill="none" stroke="#5b8b97" stroke-width="1" stroke-dasharray="3.4 3.1"/>
<path d="M40.50,276.03 L41.53,277.55 L42.57,279.06 L43.60,280.54 L44.64,282.01 L45.67,283.46 L46.70,284.90 L47.74,286.31 L48.77,287.71 L49.81,289.10 L50.84,290.46 L51.87,291.81 L52.91,293.15 L53.94,294.46 L54.98,295.77 L56.01,297.05 L57.04,298.33 L58.08,299.58 L59.11,300.83 L60.15,302.05 L61.18,303.27 L62.21,304.47 L63.25,305.66 L64.28,306.83 L65.32,307.99 L66.35,309.13 L67.38,310.27 L68.42,311.39 L69.45,312.49 L70.49,313.59 L71.52,314.67 L72.55,315.74 L73.59,316.80 L74.62,317.84 L75.66,318.88 L76.69,319.90 L77.72,320.91 L78.76,321.91 L79.79,322.90 L80.83,323.88 L81.86,324.85 L82.89,325.81 L83.93,326.75 L84.96,327.69 L86.00,328.62 L87.03,329.53 L88.06,330.44 L89.10,331.33 L90.13,332.22 L91.17,333.10 L92.20,333.97 L93.23,334.82 L94.27,335.67 L95.30,336.51 L96.34,337.35 L97.37,338.17 L98.40,338.98 L99.44,339.79 L100.47,340.58 L101.51,341.37 L102.54,342.15 L103.57,342.92 L104.61,343.69 L105.64,344.44 L106.68,345.19 L107.71,345.93 L108.74,346.67 L109.78,347.39 L110.81,348.11 L111.85,348.82 L112.88,349.52 L113.91,350.22 L114.95,350.91 L115.98,351.59 L117.02,352.26 L118.05,352.93 L119.08,353.59 L120.12,354.25 L121.15,354.90 L122.19,355.54 L123.22,356.17 L124.25,356.80 L125.29,357.43 L126.32,358.04 L127.36,358.65 L128.39,359.26 L129.42,359.86 L130.46,360.45 L131.49,361.04 L132.53,361.62 L133.56,362.19 L134.59,362.76 L135.63,363.33 L136.66,363.89 L137.70,364.44 L138.73,364.99 L139.76,365.53 L140.80,366.07 L141.83,366.60 L142.87,367.13 L143.90,367.65 L144.93,368.17 L145.97,368.68 L147.00,369.19 L148.04,369.69 L149.07,370.19 L150.10,370.68 L151.14,371.17 L152.17,371.65 L153.21,372.13 L154.24,372.61 L155.27,373.08 L156.31,373.54 L157.34,374.01 L158.38,374.46 L159.41,374.92 L160.44,375.37 L161.48,375.81 L162.51,376.25 L163.55,376.69 L164.58,377.12 L165.61,377.55 L166.65,377.98 L167.68,378.40 L168.72,378.82 L169.75,379.23 L170.78,379.64 L171.82,380.05 L172.85,380.45 L173.89,380.85 L174.92,381.24 L175.95,381.63 L176.99,382.02 L178.02,382.41 L179.06,382.79 L180.09,383.17 L181.12,383.54 L182.16,383.91 L183.19,384.28 L184.23,384.65 L185.26,385.01 L186.29,385.37 L187.33,385.72 L188.36,386.07 L189.40,386.42 L190.43,386.77 L191.46,387.11 L192.50,387.45 L193.53,387.79 L194.57,388.13 L195.60,388.46 L196.63,388.79 L197.67,389.11 L198.70,389.43 L199.74,389.76 L200.77,390.07 L201.80,390.39 L202.84,390.70 L203.87,391.01 L204.91,391.32 L205.94,391.62 L206.97,391.92 L208.01,392.22 L209.04,392.52 L210.08,392.81 L211.11,393.11 L212.14,393.39 L213.18,393.68 L214.21,393.97 L215.25,394.25 L216.28,394.53 L217.31,394.81 L218.35,395.08 L219.38,395.35 L220.42,395.63 L221.45,395.89 L222.48,396.16 L223.52,396.42 L224.55,396.69 L225.59,396.95 L226.62,397.20 L227.65,397.46 L228.69,397.71 L229.72,397.97 L230.76,398.22 L231.79,398.46 L232.82,398.71 L233.86,398.95 L234.89,399.19 L235.93,399.43 L236.96,399.67 L237.99,399.91 L239.03,400.14 L240.06,400.37 L241.10,400.60 L242.13,400.83 L243.16,401.06 L244.20,401.28 L245.23,401.51 L246.27,401.73 L247.30,401.95" fill="none" stroke="#e5cb8a" stroke-width="1" stroke-dasharray="3.5 2" stroke-dashoffset="2.4"/>
<circle cx="40.50" cy="276.03" r="2.25" fill="#111"/>
<circle cx="61.18" cy="303.46" r="2.25" fill="#111"/>
<circle cx="81.86" cy="324.19" r="2.25" fill="#111"/>
<circle cx="102.54" cy="343.20" r="2.25" fill="#111"/>
<circle cx="123.22" cy="354.70" r="2.25" fill="#111"/>
<circle cx="143.90" cy="369.00" r="2.25" fill="#111"/>
<circle cx="164.58" cy="376.96" r="2.25" fill="#111"/>
<circle cx="185.26" cy="385.56" r="2.25" fill="#111"/>
<circle cx="205.94" cy="391.45" r="2.25" fill="#111"/>
<circle cx="226.62" cy="396.79" r="2.25" fill="#111"/>
<circle cx="247.30" cy="401.95" r="2.25" fill="#111"/>
<rect x="30.40" y="257.20" width="227.40" height="181.05" fill="none" stroke="#5c5c5c" stroke-width="1.1"/>
<line x1="40.50" y1="438.25" x2="40.50" y2="441.45" stroke="#5c5c5c" stroke-width="1"/>
<line x1="61.18" y1="438.25" x2="61.18" y2="440.25" stroke="#5c5c5c" stroke-width="1"/>
<line x1="81.86" y1="438.25" x2="81.86" y2="441.45" stroke="#5c5c5c" stroke-width="1"/>
<line x1="102.54" y1="438.25" x2="102.54" y2="440.25" stroke="#5c5c5c" stroke-width="1"/>
<line x1="123.22" y1="438.25" x2="123.22" y2="441.45" stroke="#5c5c5c" stroke-width="1"/>
<line x1="143.90" y1="438.25" x2="143.90" y2="440.25" stroke="#5c5c5c" stroke-width="1"/>
<line x1="164.58" y1="438.25" x2="164.58" y2="441.45" stroke="#5c5c5c" stroke-width="1"/>
<line x1="185.26" y1="438.25" x2="185.26" y2="440.25" stroke="#5c5c5c" stroke-width="1"/>
<line x1="205.94" y1="438.25" x2="205.94" y2="441.45" stroke="#5c5c5c" stroke-width="1"/>
<line x1="226.62" y1="438.25" x2="226.62" y2="440.25" stroke="#5c5c5c" stroke-width="1"/>
<line x1="247.30" y1="438.25" x2="247.30" y2="441.45" stroke="#5c5c5c" stroke-width="1"/>
<line x1="27.20" y1="438.25" x2="30.40" y2="438.25" stroke="#5c5c5c" stroke-width="1"/>
<line x1="28.40" y1="415.62" x2="30.40" y2="415.62" stroke="#5c5c5c" stroke-width="1"/>
<line x1="27.20" y1="392.99" x2="30.40" y2="392.99" stroke="#5c5c5c" stroke-width="1"/>
<line x1="28.40" y1="370.36" x2="30.40" y2="370.36" stroke="#5c5c5c" stroke-width="1"/>
<line x1="27.20" y1="347.73" x2="30.40" y2="347.73" stroke="#5c5c5c" stroke-width="1"/>
<line x1="28.40" y1="325.09" x2="30.40" y2="325.09" stroke="#5c5c5c" stroke-width="1"/>
<line x1="27.20" y1="302.46" x2="30.40" y2="302.46" stroke="#5c5c5c" stroke-width="1"/>
<line x1="28.40" y1="279.83" x2="30.40" y2="279.83" stroke="#5c5c5c" stroke-width="1"/>
<line x1="27.20" y1="257.20" x2="30.40" y2="257.20" stroke="#5c5c5c" stroke-width="1"/>
<text x="40.50" y="449.35" class="tl" text-anchor="middle">0</text>
<text x="81.86" y="449.35" class="tl" text-anchor="middle">20</text>
<text x="123.22" y="449.35" class="tl" text-anchor="middle">40</text>
<text x="164.58" y="449.35" class="tl" text-anchor="middle">60</text>
<text x="205.94" y="449.35" class="tl" text-anchor="middle">80</text>
<text x="247.30" y="449.35" class="tl" text-anchor="middle">100</text>
<text x="25.00" y="440.80" class="tl" text-anchor="end">0</text>
<text x="25.00" y="395.54" class="tl" text-anchor="end">5</text>
<text x="25.00" y="350.28" class="tl" text-anchor="end">10</text>
<text x="25.00" y="305.01" class="tl" text-anchor="end">15</text>
<text x="25.00" y="259.75" class="tl" text-anchor="end">20</text>
<text x="142.90" y="463.05" class="at" text-anchor="middle">Weight fraction of vH4 [%]</text>
<text transform="translate(12.80,347.73) rotate(-90)" class="at" style="font-size:8.75px" text-anchor="middle">Melt flow rate [g/10 min]</text>
<rect x="170.30" y="259.20" width="85.4" height="39.8" fill="#fff" stroke="#c4c4c4" stroke-width="0.8"/>
<circle cx="179.90" cy="264.60" r="2.0" fill="#111"/>
<line x1="170.50" y1="274.30" x2="188.80" y2="274.30" stroke="#a6d5da" stroke-width="1.25"/>
<line x1="170.50" y1="284.00" x2="188.80" y2="284.00" stroke="#5b8b97" stroke-width="1" stroke-dasharray="3.4 3.1"/>
<line x1="170.50" y1="293.70" x2="188.80" y2="293.70" stroke="#e5cb8a" stroke-width="1" stroke-dasharray="3.5 2"/>
<text x="190.90" y="267.10" class="lg">Experimental data</text>
<text x="190.90" y="276.80" class="lg">Model 3</text>
<text x="190.90" y="286.50" class="lg">Model 4</text>
<text x="190.90" y="296.20" class="lg">MTF model</text>
<rect x="225.60" y="301.10" width="30.00" height="10.3" fill="#fff" stroke="#c8c8c8" stroke-width="0.8"/>
<text x="240.60" y="309.30" class="lb" text-anchor="middle">r16-vH4</text>
<text x="135.55" y="488.00" class="sc" text-anchor="middle"><tspan class="pa" dy="0.9">(</tspan><tspan font-weight="bold" dy="-0.9">c</tspan><tspan class="pa" dy="0.9">)</tspan></text>
<line x1="325.15" y1="257.30" x2="325.15" y2="438.45" stroke="#e4e4e4" stroke-width="0.8"/>
<line x1="366.52" y1="257.30" x2="366.52" y2="438.45" stroke="#e4e4e4" stroke-width="0.8"/>
<line x1="407.89" y1="257.30" x2="407.89" y2="438.45" stroke="#e4e4e4" stroke-width="0.8"/>
<line x1="449.26" y1="257.30" x2="449.26" y2="438.45" stroke="#e4e4e4" stroke-width="0.8"/>
<line x1="490.63" y1="257.30" x2="490.63" y2="438.45" stroke="#e4e4e4" stroke-width="0.8"/>
<line x1="532.00" y1="257.30" x2="532.00" y2="438.45" stroke="#e4e4e4" stroke-width="0.8"/>
<line x1="314.75" y1="438.45" x2="542.40" y2="438.45" stroke="#e4e4e4" stroke-width="0.8"/>
<line x1="314.75" y1="408.26" x2="542.40" y2="408.26" stroke="#e4e4e4" stroke-width="0.8"/>
<line x1="314.75" y1="378.07" x2="542.40" y2="378.07" stroke="#e4e4e4" stroke-width="0.8"/>
<line x1="314.75" y1="347.88" x2="542.40" y2="347.88" stroke="#e4e4e4" stroke-width="0.8"/>
<line x1="314.75" y1="317.68" x2="542.40" y2="317.68" stroke="#e4e4e4" stroke-width="0.8"/>
<line x1="314.75" y1="287.49" x2="542.40" y2="287.49" stroke="#e4e4e4" stroke-width="0.8"/>
<line x1="314.75" y1="257.30" x2="542.40" y2="257.30" stroke="#e4e4e4" stroke-width="0.8"/>
<path d="M325.15,272.40 L326.18,273.95 L327.22,275.49 L328.25,277.02 L329.29,278.53 L330.32,280.03 L331.36,281.51 L332.39,282.99 L333.42,284.44 L334.46,285.89 L335.49,287.32 L336.53,288.74 L337.56,290.14 L338.60,291.53 L339.63,292.91 L340.66,294.28 L341.70,295.63 L342.73,296.98 L343.77,298.30 L344.80,299.62 L345.83,300.93 L346.87,302.22 L347.90,303.50 L348.94,304.77 L349.97,306.03 L351.01,307.27 L352.04,308.51 L353.07,309.73 L354.11,310.94 L355.14,312.14 L356.18,313.33 L357.21,314.51 L358.25,315.68 L359.28,316.83 L360.31,317.98 L361.35,319.11 L362.38,320.24 L363.42,321.35 L364.45,322.46 L365.49,323.55 L366.52,324.64 L367.55,325.71 L368.59,326.77 L369.62,327.83 L370.66,328.87 L371.69,329.91 L372.73,330.93 L373.76,331.95 L374.79,332.95 L375.83,333.95 L376.86,334.94 L377.90,335.92 L378.93,336.89 L379.97,337.85 L381.00,338.80 L382.03,339.74 L383.07,340.68 L384.10,341.60 L385.14,342.52 L386.17,343.43 L387.20,344.33 L388.24,345.22 L389.27,346.10 L390.31,346.98 L391.34,347.84 L392.38,348.70 L393.41,349.55 L394.44,350.39 L395.48,351.23 L396.51,352.06 L397.55,352.88 L398.58,353.69 L399.62,354.49 L400.65,355.29 L401.68,356.08 L402.72,356.86 L403.75,357.64 L404.79,358.40 L405.82,359.17 L406.86,359.92 L407.89,360.67 L408.92,361.40 L409.96,362.14 L410.99,362.86 L412.03,363.58 L413.06,364.29 L414.10,365.00 L415.13,365.70 L416.16,366.39 L417.20,367.08 L418.23,367.76 L419.27,368.43 L420.30,369.10 L421.34,369.76 L422.37,370.41 L423.40,371.06 L424.44,371.71 L425.47,372.34 L426.51,372.97 L427.54,373.60 L428.57,374.22 L429.61,374.83 L430.64,375.44 L431.68,376.04 L432.71,376.63 L433.75,377.22 L434.78,377.81 L435.81,378.39 L436.85,378.96 L437.88,379.53 L438.92,380.09 L439.95,380.65 L440.99,381.20 L442.02,381.75 L443.05,382.29 L444.09,382.83 L445.12,383.36 L446.16,383.89 L447.19,384.41 L448.23,384.93 L449.26,385.44 L450.29,385.95 L451.33,386.46 L452.36,386.95 L453.40,387.45 L454.43,387.94 L455.47,388.42 L456.50,388.90 L457.53,389.38 L458.57,389.85 L459.60,390.31 L460.64,390.77 L461.67,391.23 L462.71,391.69 L463.74,392.14 L464.77,392.58 L465.81,393.02 L466.84,393.46 L467.88,393.89 L468.91,394.32 L469.94,394.74 L470.98,395.16 L472.01,395.58 L473.05,395.99 L474.08,396.40 L475.12,396.80 L476.15,397.21 L477.18,397.60 L478.22,398.00 L479.25,398.39 L480.29,398.77 L481.32,399.15 L482.36,399.53 L483.39,399.91 L484.42,400.28 L485.46,400.65 L486.49,401.01 L487.53,401.37 L488.56,401.73 L489.60,402.09 L490.63,402.44 L491.66,402.78 L492.70,403.13 L493.73,403.47 L494.77,403.81 L495.80,404.14 L496.84,404.47 L497.87,404.80 L498.90,405.13 L499.94,405.45 L500.97,405.77 L502.01,406.09 L503.04,406.40 L504.08,406.71 L505.11,407.02 L506.14,407.32 L507.18,407.62 L508.21,407.92 L509.25,408.22 L510.28,408.51 L511.32,408.80 L512.35,409.09 L513.38,409.37 L514.42,409.65 L515.45,409.93 L516.49,410.21 L517.52,410.48 L518.55,410.75 L519.59,411.02 L520.62,411.29 L521.66,411.55 L522.69,411.81 L523.73,412.07 L524.76,412.33 L525.79,412.58 L526.83,412.83 L527.86,413.08 L528.90,413.33 L529.93,413.57 L530.97,413.82 L532.00,414.06" fill="none" stroke="#a6d5da" stroke-width="1.25"/>
<path d="M325.15,272.40 L326.18,274.23 L327.22,276.04 L328.25,277.83 L329.29,279.59 L330.32,281.33 L331.36,283.05 L332.39,284.75 L333.42,286.43 L334.46,288.09 L335.49,289.72 L336.53,291.34 L337.56,292.93 L338.60,294.51 L339.63,296.06 L340.66,297.60 L341.70,299.12 L342.73,300.62 L343.77,302.10 L344.80,303.56 L345.83,305.00 L346.87,306.43 L347.90,307.84 L348.94,309.23 L349.97,310.60 L351.01,311.96 L352.04,313.30 L353.07,314.63 L354.11,315.94 L355.14,317.23 L356.18,318.50 L357.21,319.77 L358.25,321.01 L359.28,322.24 L360.31,323.46 L361.35,324.66 L362.38,325.85 L363.42,327.02 L364.45,328.18 L365.49,329.33 L366.52,330.46 L367.55,331.58 L368.59,332.68 L369.62,333.77 L370.66,334.85 L371.69,335.92 L372.73,336.97 L373.76,338.01 L374.79,339.04 L375.83,340.06 L376.86,341.06 L377.90,342.06 L378.93,343.04 L379.97,344.01 L381.00,344.97 L382.03,345.91 L383.07,346.85 L384.10,347.78 L385.14,348.69 L386.17,349.60 L387.20,350.49 L388.24,351.37 L389.27,352.25 L390.31,353.11 L391.34,353.96 L392.38,354.81 L393.41,355.64 L394.44,356.46 L395.48,357.28 L396.51,358.08 L397.55,358.88 L398.58,359.67 L399.62,360.45 L400.65,361.22 L401.68,361.98 L402.72,362.73 L403.75,363.47 L404.79,364.21 L405.82,364.93 L406.86,365.65 L407.89,366.36 L408.92,367.07 L409.96,367.76 L410.99,368.45 L412.03,369.13 L413.06,369.80 L414.10,370.46 L415.13,371.12 L416.16,371.77 L417.20,372.41 L418.23,373.05 L419.27,373.68 L420.30,374.30 L421.34,374.91 L422.37,375.52 L423.40,376.12 L424.44,376.72 L425.47,377.31 L426.51,377.89 L427.54,378.46 L428.57,379.03 L429.61,379.59 L430.64,380.15 L431.68,380.70 L432.71,381.25 L433.75,381.78 L434.78,382.32 L435.81,382.85 L436.85,383.37 L437.88,383.88 L438.92,384.39 L439.95,384.90 L440.99,385.40 L442.02,385.89 L443.05,386.38 L444.09,386.86 L445.12,387.34 L446.16,387.82 L447.19,388.28 L448.23,388.75 L449.26,389.21 L450.29,389.66 L451.33,390.11 L452.36,390.55 L453.40,390.99 L454.43,391.43 L455.47,391.86 L456.50,392.28 L457.53,392.70 L458.57,393.12 L459.60,393.53 L460.64,393.94 L461.67,394.34 L462.71,394.74 L463.74,395.14 L464.77,395.53 L465.81,395.92 L466.84,396.30 L467.88,396.68 L468.91,397.06 L469.94,397.43 L470.98,397.79 L472.01,398.16 L473.05,398.52 L474.08,398.88 L475.12,399.23 L476.15,399.58 L477.18,399.92 L478.22,400.26 L479.25,400.60 L480.29,400.94 L481.32,401.27 L482.36,401.60 L483.39,401.92 L484.42,402.25 L485.46,402.56 L486.49,402.88 L487.53,403.19 L488.56,403.50 L489.60,403.81 L490.63,404.11 L491.66,404.41 L492.70,404.71 L493.73,405.00 L494.77,405.29 L495.80,405.58 L496.84,405.86 L497.87,406.15 L498.90,406.42 L499.94,406.70 L500.97,406.98 L502.01,407.25 L503.04,407.51 L504.08,407.78 L505.11,408.04 L506.14,408.30 L507.18,408.56 L508.21,408.82 L509.25,409.07 L510.28,409.32 L511.32,409.57 L512.35,409.82 L513.38,410.06 L514.42,410.30 L515.45,410.54 L516.49,410.77 L517.52,411.01 L518.55,411.24 L519.59,411.47 L520.62,411.70 L521.66,411.92 L522.69,412.14 L523.73,412.36 L524.76,412.58 L525.79,412.80 L526.83,413.01 L527.86,413.23 L528.90,413.44 L529.93,413.64 L530.97,413.85 L532.00,414.06" fill="none" stroke="#5b8b97" stroke-width="1" stroke-dasharray="3.4 3.1"/>
<path d="M325.15,272.40 L326.18,274.28 L327.22,276.15 L328.25,277.99 L329.29,279.80 L330.32,281.59 L331.36,283.36 L332.39,285.10 L333.42,286.82 L334.46,288.52 L335.49,290.19 L336.53,291.85 L337.56,293.48 L338.60,295.09 L339.63,296.68 L340.66,298.24 L341.70,299.79 L342.73,301.32 L343.77,302.83 L344.80,304.31 L345.83,305.78 L346.87,307.23 L347.90,308.66 L348.94,310.08 L349.97,311.47 L351.01,312.85 L352.04,314.21 L353.07,315.55 L354.11,316.87 L355.14,318.18 L356.18,319.47 L357.21,320.75 L358.25,322.01 L359.28,323.25 L360.31,324.48 L361.35,325.69 L362.38,326.89 L363.42,328.07 L364.45,329.24 L365.49,330.39 L366.52,331.53 L367.55,332.65 L368.59,333.76 L369.62,334.86 L370.66,335.94 L371.69,337.01 L372.73,338.07 L373.76,339.11 L374.79,340.14 L375.83,341.16 L376.86,342.17 L377.90,343.16 L378.93,344.14 L379.97,345.11 L381.00,346.07 L382.03,347.02 L383.07,347.95 L384.10,348.87 L385.14,349.79 L386.17,350.69 L387.20,351.58 L388.24,352.46 L389.27,353.33 L390.31,354.19 L391.34,355.04 L392.38,355.88 L393.41,356.71 L394.44,357.52 L395.48,358.33 L396.51,359.13 L397.55,359.93 L398.58,360.71 L399.62,361.48 L400.65,362.24 L401.68,363.00 L402.72,363.74 L403.75,364.48 L404.79,365.21 L405.82,365.93 L406.86,366.64 L407.89,367.34 L408.92,368.04 L409.96,368.72 L410.99,369.40 L412.03,370.07 L413.06,370.74 L414.10,371.39 L415.13,372.04 L416.16,372.68 L417.20,373.32 L418.23,373.94 L419.27,374.56 L420.30,375.18 L421.34,375.78 L422.37,376.38 L423.40,376.97 L424.44,377.56 L425.47,378.14 L426.51,378.71 L427.54,379.28 L428.57,379.84 L429.61,380.39 L430.64,380.94 L431.68,381.48 L432.71,382.01 L433.75,382.54 L434.78,383.07 L435.81,383.58 L436.85,384.10 L437.88,384.60 L438.92,385.10 L439.95,385.60 L440.99,386.09 L442.02,386.57 L443.05,387.05 L444.09,387.53 L445.12,387.99 L446.16,388.46 L447.19,388.92 L448.23,389.37 L449.26,389.82 L450.29,390.26 L451.33,390.70 L452.36,391.14 L453.40,391.57 L454.43,391.99 L455.47,392.41 L456.50,392.83 L457.53,393.24 L458.57,393.65 L459.60,394.05 L460.64,394.45 L461.67,394.85 L462.71,395.24 L463.74,395.62 L464.77,396.01 L465.81,396.38 L466.84,396.76 L467.88,397.13 L468.91,397.49 L469.94,397.86 L470.98,398.22 L472.01,398.57 L473.05,398.92 L474.08,399.27 L475.12,399.62 L476.15,399.96 L477.18,400.29 L478.22,400.63 L479.25,400.96 L480.29,401.28 L481.32,401.61 L482.36,401.93 L483.39,402.24 L484.42,402.56 L485.46,402.87 L486.49,403.18 L487.53,403.48 L488.56,403.78 L489.60,404.08 L490.63,404.37 L491.66,404.67 L492.70,404.95 L493.73,405.24 L494.77,405.52 L495.80,405.80 L496.84,406.08 L497.87,406.36 L498.90,406.63 L499.94,406.90 L500.97,407.16 L502.01,407.43 L503.04,407.69 L504.08,407.95 L505.11,408.21 L506.14,408.46 L507.18,408.71 L508.21,408.96 L509.25,409.20 L510.28,409.45 L511.32,409.69 L512.35,409.93 L513.38,410.17 L514.42,410.40 L515.45,410.63 L516.49,410.86 L517.52,411.09 L518.55,411.32 L519.59,411.54 L520.62,411.76 L521.66,411.98 L522.69,412.20 L523.73,412.41 L524.76,412.62 L525.79,412.83 L526.83,413.04 L527.86,413.25 L528.90,413.45 L529.93,413.66 L530.97,413.86 L532.00,414.06" fill="none" stroke="#e5cb8a" stroke-width="1" stroke-dasharray="3.5 2" stroke-dashoffset="2.4"/>
<circle cx="325.15" cy="272.40" r="2.25" fill="#111"/>
<circle cx="345.83" cy="311.83" r="2.25" fill="#111"/>
<circle cx="366.52" cy="333.81" r="2.25" fill="#111"/>
<circle cx="387.20" cy="354.03" r="2.25" fill="#111"/>
<circle cx="407.89" cy="366.41" r="2.25" fill="#111"/>
<circle cx="428.57" cy="379.76" r="2.25" fill="#111"/>
<circle cx="449.26" cy="390.57" r="2.25" fill="#111"/>
<circle cx="469.94" cy="397.33" r="2.25" fill="#111"/>
<circle cx="490.63" cy="403.55" r="2.25" fill="#111"/>
<circle cx="511.32" cy="408.74" r="2.25" fill="#111"/>
<circle cx="532.00" cy="414.06" r="2.25" fill="#111"/>
<rect x="314.75" y="257.30" width="227.65" height="181.15" fill="none" stroke="#5c5c5c" stroke-width="1.1"/>
<line x1="325.15" y1="438.45" x2="325.15" y2="441.65" stroke="#5c5c5c" stroke-width="1"/>
<line x1="345.83" y1="438.45" x2="345.83" y2="440.45" stroke="#5c5c5c" stroke-width="1"/>
<line x1="366.52" y1="438.45" x2="366.52" y2="441.65" stroke="#5c5c5c" stroke-width="1"/>
<line x1="387.20" y1="438.45" x2="387.20" y2="440.45" stroke="#5c5c5c" stroke-width="1"/>
<line x1="407.89" y1="438.45" x2="407.89" y2="441.65" stroke="#5c5c5c" stroke-width="1"/>
<line x1="428.57" y1="438.45" x2="428.57" y2="440.45" stroke="#5c5c5c" stroke-width="1"/>
<line x1="449.26" y1="438.45" x2="449.26" y2="441.65" stroke="#5c5c5c" stroke-width="1"/>
<line x1="469.94" y1="438.45" x2="469.94" y2="440.45" stroke="#5c5c5c" stroke-width="1"/>
<line x1="490.63" y1="438.45" x2="490.63" y2="441.65" stroke="#5c5c5c" stroke-width="1"/>
<line x1="511.32" y1="438.45" x2="511.32" y2="440.45" stroke="#5c5c5c" stroke-width="1"/>
<line x1="532.00" y1="438.45" x2="532.00" y2="441.65" stroke="#5c5c5c" stroke-width="1"/>
<line x1="311.55" y1="438.45" x2="314.75" y2="438.45" stroke="#5c5c5c" stroke-width="1"/>
<line x1="312.75" y1="423.35" x2="314.75" y2="423.35" stroke="#5c5c5c" stroke-width="1"/>
<line x1="311.55" y1="408.26" x2="314.75" y2="408.26" stroke="#5c5c5c" stroke-width="1"/>
<line x1="312.75" y1="393.16" x2="314.75" y2="393.16" stroke="#5c5c5c" stroke-width="1"/>
<line x1="311.55" y1="378.07" x2="314.75" y2="378.07" stroke="#5c5c5c" stroke-width="1"/>
<line x1="312.75" y1="362.97" x2="314.75" y2="362.97" stroke="#5c5c5c" stroke-width="1"/>
<line x1="311.55" y1="347.88" x2="314.75" y2="347.88" stroke="#5c5c5c" stroke-width="1"/>
<line x1="312.75" y1="332.78" x2="314.75" y2="332.78" stroke="#5c5c5c" stroke-width="1"/>
<line x1="311.55" y1="317.68" x2="314.75" y2="317.68" stroke="#5c5c5c" stroke-width="1"/>
<line x1="312.75" y1="302.59" x2="314.75" y2="302.59" stroke="#5c5c5c" stroke-width="1"/>
<line x1="311.55" y1="287.49" x2="314.75" y2="287.49" stroke="#5c5c5c" stroke-width="1"/>
<line x1="312.75" y1="272.40" x2="314.75" y2="272.40" stroke="#5c5c5c" stroke-width="1"/>
<line x1="311.55" y1="257.30" x2="314.75" y2="257.30" stroke="#5c5c5c" stroke-width="1"/>
<text x="325.15" y="449.55" class="tl" text-anchor="middle">0</text>
<text x="366.52" y="449.55" class="tl" text-anchor="middle">20</text>
<text x="407.89" y="449.55" class="tl" text-anchor="middle">40</text>
<text x="449.26" y="449.55" class="tl" text-anchor="middle">60</text>
<text x="490.63" y="449.55" class="tl" text-anchor="middle">80</text>
<text x="532.00" y="449.55" class="tl" text-anchor="middle">100</text>
<text x="309.35" y="441.00" class="tl" text-anchor="end">0</text>
<text x="309.35" y="410.81" class="tl" text-anchor="end">5</text>
<text x="309.35" y="380.62" class="tl" text-anchor="end">10</text>
<text x="309.35" y="350.43" class="tl" text-anchor="end">15</text>
<text x="309.35" y="320.23" class="tl" text-anchor="end">20</text>
<text x="309.35" y="290.04" class="tl" text-anchor="end">25</text>
<text x="309.35" y="259.85" class="tl" text-anchor="end">30</text>
<text x="427.38" y="463.25" class="at" text-anchor="middle">Weight fraction of vH4 [%]</text>
<text transform="translate(297.15,347.88) rotate(-90)" class="at" style="font-size:8.75px" text-anchor="middle">Melt flow rate [g/10 min]</text>
<rect x="454.30" y="259.20" width="85.4" height="39.8" fill="#fff" stroke="#c4c4c4" stroke-width="0.8"/>
<circle cx="463.90" cy="264.60" r="2.0" fill="#111"/>
<line x1="454.50" y1="274.30" x2="472.80" y2="274.30" stroke="#a6d5da" stroke-width="1.25"/>
<line x1="454.50" y1="284.00" x2="472.80" y2="284.00" stroke="#5b8b97" stroke-width="1" stroke-dasharray="3.4 3.1"/>
<line x1="454.50" y1="293.70" x2="472.80" y2="293.70" stroke="#e5cb8a" stroke-width="1" stroke-dasharray="3.5 2"/>
<text x="474.90" y="267.10" class="lg">Experimental data</text>
<text x="474.90" y="276.80" class="lg">Model 3</text>
<text x="474.90" y="286.50" class="lg">Model 4</text>
<text x="474.90" y="296.20" class="lg">MTF model</text>
<rect x="509.80" y="301.10" width="29.80" height="10.3" fill="#fff" stroke="#c8c8c8" stroke-width="0.8"/>
<text x="524.70" y="309.30" class="lb" text-anchor="middle">r27-vH4</text>
<text x="417.60" y="488.00" class="sc" text-anchor="middle"><tspan class="pa" dy="0.9">(</tspan><tspan font-weight="bold" dy="-0.9">d</tspan><tspan class="pa" dy="0.9">)</tspan></text>
</svg>
</body></html>
